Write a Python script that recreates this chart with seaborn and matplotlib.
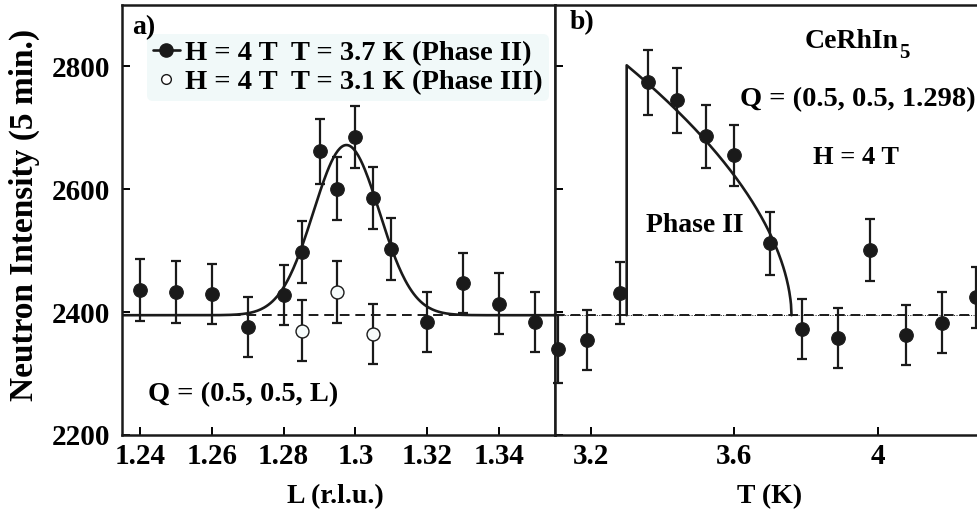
import numpy as np
import matplotlib
matplotlib.use("Agg")
import matplotlib.pyplot as plt
from matplotlib.lines import Line2D
import seaborn as sns

# ---- panel a) : L scans at H = 4 T ----
L_ph2 = [1.24, 1.25, 1.26, 1.27, 1.28, 1.285, 1.29, 1.295, 1.30, 1.305, 1.31, 1.32, 1.33, 1.34, 1.35]
I_ph2 = [2436, 2433, 2430, 2376, 2428, 2498, 2662, 2601, 2685, 2586, 2503, 2384, 2448, 2414, 2384]
E_ph2 = [50, 50, 49, 49, 49, 50, 53, 51, 51, 51, 50, 49, 49, 49, 49]

L_ph3 = [1.285, 1.295, 1.305]
I_ph3 = [2370, 2433, 2364]
E_ph3 = [49, 50, 49]

# gaussian fit
g_base, g_amp, g_center, g_sigma = 2395, 277, 1.2975, 0.0092

# ---- panel b) : T scan at Q = (0.5, 0.5, 1.298) ----
T_scan = [3.108, 3.19, 3.28, 3.36, 3.44, 3.52, 3.60, 3.70, 3.79, 3.89, 3.98, 4.08, 4.18, 4.276]
I_scan = [2340, 2355, 2431, 2774, 2745, 2686, 2655, 2512, 2372, 2358, 2501, 2363, 2383, 2424]
E_scan = [55, 49, 50, 53, 53, 52, 50, 51, 49, 49, 51, 49, 49, 50]

# order-parameter fit
t_base, t_jump, t_c, t_amp, t_pow = 2395, 3.30, 3.76, 1292, 0.55

sns.set_theme(style="ticks")
plt.rcParams["font.family"] = ["Liberation Serif", "DejaVu Serif"]
plt.rcParams["font.weight"] = "bold"
plt.rcParams["axes.labelweight"] = "bold"
for k in ("text.color", "axes.labelcolor", "xtick.color", "ytick.color", "axes.edgecolor"):
    plt.rcParams[k] = "black"

W, H = 977, 516
fig = plt.figure(figsize=(W / 100, H / 100), dpi=100)
ax1 = fig.add_axes([121.7 / W, 1 - 435 / H, (555 - 121.7) / W, 430 / H])
ax2 = fig.add_axes([555 / W, 1 - 435 / H, 422 / W, 430 / H])

ms2 = 9.8 ** 2
eb = dict(fmt="none", ecolor="k", elinewidth=1.6, capsize=3.3, capthick=1.6, zorder=3)

# panel a
Lg = np.linspace(1.2349, 1.3556, 400)
Ig = g_base + g_amp * np.exp(-(Lg - g_center) ** 2 / (2 * g_sigma ** 2))
ax1.axhline(g_base, color="k", lw=1.4, ls=(0, (5, 3)), zorder=1)
sns.lineplot(x=Lg, y=Ig, ax=ax1, color="k", lw=1.9, zorder=2)
ax1.errorbar(L_ph2, I_ph2, yerr=E_ph2, **eb)
ax1.errorbar(L_ph3, I_ph3, yerr=E_ph3, **eb)
sns.scatterplot(x=L_ph2, y=I_ph2, ax=ax1, color="k", edgecolor="k", s=ms2, zorder=4)
sns.scatterplot(x=L_ph3, y=I_ph3, ax=ax1, color="#f6fbfb", edgecolor="k", linewidth=1, s=ms2 * 0.9, zorder=4)

# panel b
Tg = np.linspace(t_jump, t_c, 300)
Ig2 = t_base + t_amp * ((t_c - Tg) / t_c) ** t_pow
Tg = np.concatenate([[t_jump], Tg])
Ig2 = np.concatenate([[t_base], Ig2])
ax2.axhline(t_base, color="k", lw=1.4, ls=(0, (5, 3)), zorder=1)
ax2.axhline(t_base, color="k", lw=0.7, ls=(0, (1, 1.5)), zorder=1)
sns.lineplot(x=Tg, y=Ig2, ax=ax2, color="k", lw=1.9, sort=False, estimator=None, zorder=2)
ax2.errorbar(T_scan, I_scan, yerr=E_scan, clip_on=False, **eb)
sns.scatterplot(x=T_scan, y=I_scan, ax=ax2, color="k", edgecolor="k", s=ms2, zorder=4, clip_on=False)

for ax in (ax1, ax2):
    ax.set_ylim(2200, 2900)
    ax.set_yticks([2200, 2400, 2600, 2800])
    ax.tick_params(direction="in", length=6, width=1.4, labelsize=21, pad=6,
                   top=False, right=False, colors="black")
    for s in ax.spines.values():
        s.set_linewidth(1.8)
        s.set_color("k")

ax1.set_xlim(1.2349, 1.3556)
ax1.set_xticks([1.24, 1.26, 1.28, 1.30, 1.32, 1.34])
ax1.set_xticklabels(["1.24", "1.26", "1.28", "1.3", "1.32", "1.34"])
ax1.tick_params(axis="y", pad=8)

ax2.set_xlim(3.1, 4.2775)
ax2.set_xticks([3.2, 3.6, 4.0])
ax2.set_xticklabels(["3.2", "3.6", "4"])
ax2.tick_params(labelleft=False)
ax2.spines["right"].set_visible(False)

ax1.set_ylabel("Neutron Intensity (5 min.)", fontsize=24, va="center")
ax1.yaxis.set_label_coords(-0.2255, 0.5116)
ax1.set_xlabel("L (r.l.u.)", fontsize=20, va="center")
ax1.xaxis.set_label_coords(0.4923, -0.1442)
ax2.set_xlabel("T (K)", fontsize=20, va="center")
ax2.xaxis.set_label_coords(0.5095, -0.1442)
ax2.set_ylabel("")

# legend
h2 = Line2D([], [], color="k", lw=1.9, marker="o", ms=9.5, mfc="k", mec="k")
h3 = Line2D([], [], ls="none", marker="o", ms=7, mfc="white", mec="k", mew=1)
leg = ax1.legend([h2, h3], ["H = 4 T  T = 3.7 K (Phase II)", "H = 4 T  T = 3.1 K (Phase III)"],
                 loc="upper left", bbox_to_anchor=(0.058, 0.932), borderaxespad=0,
                 fontsize=20.5, handlelength=0.95, handletextpad=0.2, labelspacing=0.12,
                 borderpad=0.2, frameon=True, fancybox=True, facecolor="#f1f9f9",
                 edgecolor="none", framealpha=1)
leg.set_zorder(2.5)

# annotations
ax1.text(0.024, 0.9465, "a)", transform=ax1.transAxes, ha="left", va="center", fontsize=20, zorder=6)
ax1.text(0.0607, 0.093, "Q = (0.5, 0.5, L)", transform=ax1.transAxes, ha="left", va="center", fontsize=20.5)
ax2.text(0.0355, 0.96, "b)", transform=ax2.transAxes, ha="left", va="center", fontsize=20)
ax2.text(0.592, 0.914, "CeRhIn", transform=ax2.transAxes, ha="left", va="center", fontsize=20)
ax2.text(0.816, 0.888, "5", transform=ax2.transAxes, ha="left", va="center", fontsize=15)
ax2.text(0.438, 0.779, "Q = (0.5, 0.5, 1.298)", transform=ax2.transAxes, ha="left", va="center", fontsize=20.5)
ax2.text(0.611, 0.6465, "H = 4 T", transform=ax2.transAxes, ha="left", va="center", fontsize=19)
ax2.text(0.2156, 0.488, "Phase II", transform=ax2.transAxes, ha="left", va="center", fontsize=20)

fig.savefig("out.png", dpi=100)
